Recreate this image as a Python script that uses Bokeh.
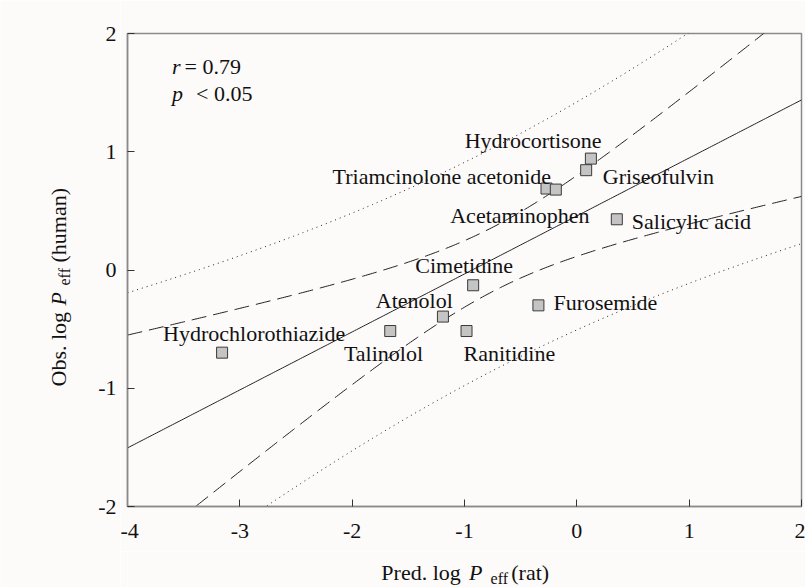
import numpy as np
from bokeh.plotting import figure
from bokeh.models import FixedTicker, ColumnDataSource, Range1d, CustomJSTickFormatter
from bokeh.layouts import row, column
from bokeh.core.properties import value
from bokeh.embed import file_html
from bokeh.resources import INLINE

# ---------------- data ----------------
compounds = ["Hydrocortisone", "Griseofulvin", "Triamcinolone acetonide", "Acetaminophen",
             "Salicylic acid", "Cimetidine", "Atenolol", "Talinolol", "Ranitidine",
             "Furosemide", "Hydrochlorothiazide"]
pred_rat = [0.125, 0.083, -0.270, -0.187, 0.356, -0.923, -1.192, -1.661, -0.982, -0.342, -3.158]
obs_human = [0.942, 0.844, 0.689, 0.680, 0.429, -0.129, -0.394, -0.516, -0.516, -0.299, -0.699]
x_ticks = [-4, -3, -2, -1, 0, 1, 2]
y_ticks = [-2, -1, 0, 1, 2]
y_tick_labels = ["-2", "-1", "0", "1", "2"]
stat_r = "0.79"
stat_p = "0.05"
T_CRIT = 2.262  # t(0.975, df = n-2 = 9)

# label placement (x, y, align) per compound
label_pos = {
    "Hydrocortisone": (-0.389, 1.097, "center"),
    "Triamcinolone acetonide": (-0.229, 0.787, "right"),
    "Griseofulvin": (0.231, 0.787, "left"),
    "Acetaminophen": (-1.127, 0.463, "left"),
    "Salicylic acid": (0.489, 0.412, "left"),
    "Cimetidine": (-1.003, 0.040, "center"),
    "Atenolol": (-1.447, -0.256, "center"),
    "Furosemide": (-0.208, -0.279, "left"),
    "Talinolol": (-1.721, -0.707, "center"),
    "Ranitidine": (-1.009, -0.707, "left"),
    "Hydrochlorothiazide": (-3.683, -0.538, "left"),
}

FONT = "Liberation Serif"
FS = "22px"
BG = "#fdfafa"
TXT = "#111111"

W, H = 805, 587
FR_L, FR_T, FR_W, FR_H = 127, 33, 674, 473   # plot frame on the page
LEFT_W = 120         # width of the left strip (y title + y tick labels)
MAIN_H = 551         # height of main figure
BOT_H = H - MAIN_H   # height of x-title strip
Y0, Y1 = -2, 2

# ---------------- regression & bands ----------------
x = np.array(pred_rat)
y = np.array(obs_human)
n = len(x)
xm, ym = x.mean(), y.mean()
sxx = ((x - xm) ** 2).sum()
sxy = ((x - xm) * (y - ym)).sum()
b = sxy / sxx
a = ym - b * xm
resid = y - (a + b * x)
s = np.sqrt((resid ** 2).sum() / (n - 2))
xs = np.linspace(-4, 2, 301)
fit = a + b * xs
se_c = s * np.sqrt(1.0 / n + (xs - xm) ** 2 / sxx)
se_p = s * np.sqrt(1.0 + 1.0 / n + (xs - xm) ** 2 / sxx)

p = figure(width=W - LEFT_W, height=MAIN_H, x_range=(-4, 2), y_range=(Y0, Y1),
           output_backend="svg", toolbar_location=None,
           min_border_left=FR_L - LEFT_W, min_border_right=W - FR_L - FR_W,
           min_border_top=FR_T, min_border_bottom=MAIN_H - FR_T - FR_H)
p.background_fill_color = BG
p.border_fill_color = BG
p.outline_line_color = "#8a8a8a"
p.outline_line_width = 1.5
p.xgrid.visible = False
p.ygrid.visible = False

for ax, ticks in ((p.xaxis, x_ticks), (p.yaxis, y_ticks)):
    ax.ticker = FixedTicker(ticks=ticks)
    ax.minor_tick_line_color = None
    ax.major_tick_in = 7
    ax.major_tick_out = 0
    ax.major_tick_line_color = "#333333"
    ax.axis_line_color = "#8a8a8a"
    ax.axis_line_width = 1.5
    ax.major_label_text_font = FONT
    ax.major_label_text_font_size = FS
    ax.major_label_text_color = TXT
p.xaxis.formatter = CustomJSTickFormatter(code="return tick.toFixed(0);")
p.xaxis.major_label_standoff = 17
# y tick labels are drawn in the left strip (same data scale), so the axis carries none here
p.yaxis.formatter = CustomJSTickFormatter(code="return '';")
p.yaxis.major_label_standoff = 0

line_col = "#222222"
p.line(xs, fit, line_color=line_col, line_width=1)
p.line(xs, fit + T_CRIT * se_c, line_color=line_col, line_width=1, line_dash="15 7")
p.line(xs, fit - T_CRIT * se_c, line_color=line_col, line_width=1, line_dash="15 7")
p.line(xs, fit + T_CRIT * se_p, line_color=line_col, line_width=1, line_dash="1 4")
p.line(xs, fit - T_CRIT * se_p, line_color=line_col, line_width=1, line_dash="1 4")

src = ColumnDataSource(dict(x=pred_rat, y=obs_human, name=compounds))
p.scatter("x", "y", source=src, marker="square", size=11,
          fill_color="#c4c4c4", line_color="#3a3a3a", line_width=1)

for name in compounds:
    lx, ly, al = label_pos[name]
    p.text(x=[lx], y=[ly], text=[name], text_align=al, text_baseline="middle",
           text_font=value(FONT), text_font_size=FS, text_color=TXT)

# statistics text
def ptxt(tx, ty, t, style="normal"):
    p.text(x=[tx], y=[ty], text=[t], text_align="left", text_baseline="middle",
           text_font=value(FONT), text_font_size=FS, text_font_style=style, text_color=TXT)

ptxt(-3.603, 1.717, "r", "italic")
ptxt(-3.492, 1.717, "= " + stat_r)
ptxt(-3.603, 1.494, "p", "italic")
ptxt(-3.390, 1.494, "< " + stat_p)


def strip(width, height, xr, yr):
    f = figure(width=width, height=height, x_range=Range1d(*xr), y_range=Range1d(*yr),
               output_backend="svg", toolbar_location=None, x_axis_type=None, y_axis_type=None,
               min_border_left=0, min_border_right=0, min_border_top=0, min_border_bottom=0)
    f.background_fill_color = BG
    f.border_fill_color = BG
    f.outline_line_color = None
    f.xgrid.visible = False
    f.ygrid.visible = False
    return f


def stxt(f, t, tx, ty, size="22px", style="normal", angle=0.0, align="left", base="alphabetic"):
    f.text(x=[tx], y=[ty], text=[t], text_align=align, text_baseline=base,
           text_font=value(FONT), text_font_size=size, text_font_style=style,
           angle=angle, text_color=TXT)

# x-title strip: page x from LEFT_W..W, y measured upward from page bottom
xf = strip(W - LEFT_W, BOT_H, (LEFT_W, W), (0, BOT_H))
stxt(xf, "Pred. log", 378, H - 572)
stxt(xf, "P", 467, H - 572, style="italic")
stxt(xf, "eff", 489, H - 578, size="16px")
stxt(xf, "(rat)", 510, H - 572)

# left strip: x in page px, y in the main plot's data units (same vertical scale as the frame)
upp = (Y1 - Y0) / FR_H                       # data units per pixel
yf = strip(LEFT_W, H, (0, LEFT_W), (Y1 - (H - FR_T) * upp, Y1 + FR_T * upp))
yf.text(x=[FR_L - 11] * len(y_ticks), y=y_ticks, text=y_tick_labels, text_align="right",
        text_baseline="middle", text_font=value(FONT), text_font_size=FS, text_color=TXT)

def page_y(py):
    return Y1 - (py - FR_T) * upp

A = np.pi / 2
stxt(yf, "Obs. log", 58, page_y(386), angle=A)
stxt(yf, "P", 58, page_y(305), style="italic", angle=A)
stxt(yf, "eff", 64, page_y(285), size="16px", angle=A)
stxt(yf, "(human)", 58, page_y(262), angle=A)

layout = row(yf, column(p, xf, spacing=0), spacing=0)
open("out.html", "w").write(file_html(layout, INLINE))
